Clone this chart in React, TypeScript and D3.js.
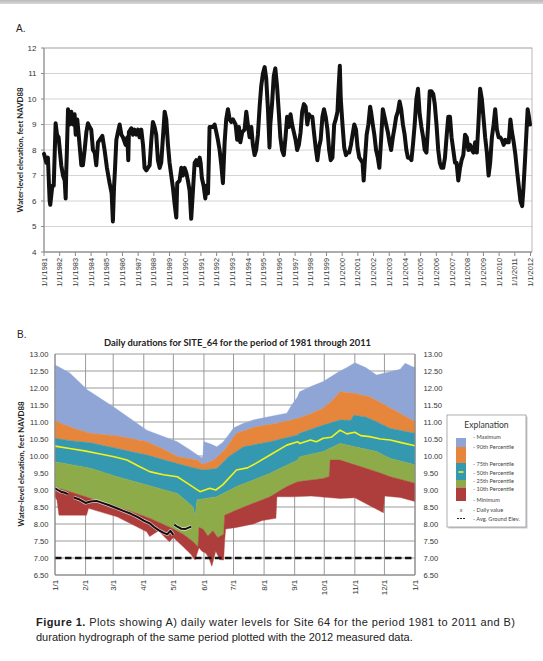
import React from "react";
import * as d3 from "d3";

// ---------- Panel A data: daily water levels (decimal year, feet NAVD88) ----------
const topYears = [
  1981.0, 1981.15, 1981.25, 1981.36, 1981.4, 1981.53, 1981.62, 1981.74, 1981.83, 1981.93,
  1982.1, 1982.21, 1982.32, 1982.38, 1982.42, 1982.46, 1982.53, 1982.63, 1982.74, 1982.85,
  1982.95, 1983.02, 1983.12, 1983.21, 1983.38, 1983.48, 1983.59, 1983.7, 1983.8, 1983.91,
  1984.01, 1984.12, 1984.23, 1984.33, 1984.44, 1984.55, 1984.72, 1984.86, 1985.01, 1985.18,
  1985.31, 1985.39, 1985.46, 1985.52, 1985.61, 1985.71, 1985.82, 1985.93, 1986.03, 1986.2,
  1986.31, 1986.37, 1986.41, 1986.56, 1986.67, 1986.77, 1986.88, 1986.99, 1987.09, 1987.2,
  1987.31, 1987.41, 1987.52, 1987.62, 1987.73, 1987.84, 1987.94, 1988.05, 1988.15, 1988.26,
  1988.37, 1988.47, 1988.58, 1988.69, 1988.79, 1988.9, 1989.0, 1989.11, 1989.22, 1989.32,
  1989.43, 1989.49, 1989.64, 1989.75, 1989.85, 1989.96, 1990.07, 1990.17, 1990.28, 1990.38,
  1990.49, 1990.6, 1990.7, 1990.81, 1990.92, 1990.98, 1991.06, 1991.17, 1991.28, 1991.34,
  1991.45, 1991.51, 1991.55, 1991.66, 1991.76, 1991.87, 1991.98, 1992.08, 1992.19, 1992.3,
  1992.4, 1992.51, 1992.61, 1992.72, 1992.83, 1992.93, 1993.04, 1993.21, 1993.31, 1993.42,
  1993.51, 1993.63, 1993.78, 1993.89, 1993.99, 1994.1, 1994.21, 1994.31, 1994.42, 1994.52,
  1994.63, 1994.74, 1994.84, 1994.95, 1995.06, 1995.16, 1995.27, 1995.37,
  1995.42, 1995.53, 1995.64, 1995.74, 1995.85, 1995.96, 1996.06, 1996.17, 1996.28, 1996.39,
  1996.49, 1996.6, 1996.71, 1996.81, 1996.92, 1997.03, 1997.13, 1997.24, 1997.35, 1997.45,
  1997.56, 1997.67, 1997.78, 1997.88, 1997.99, 1998.1, 1998.2, 1998.31, 1998.42, 1998.52,
  1998.63, 1998.74, 1998.84, 1998.95, 1999.06, 1999.17, 1999.27, 1999.38, 1999.49, 1999.59,
  1999.7, 1999.76, 1999.85, 1999.91, 2000.02, 2000.13, 2000.24, 2000.34, 2000.45, 2000.56,
  2000.66, 2000.77, 2000.88, 2000.98, 2001.09, 2001.2, 2001.3, 2001.37, 2001.45, 2001.56,
  2001.67, 2001.78, 2001.84, 2001.95, 2002.05, 2002.16, 2002.27, 2002.37, 2002.48, 2002.59,
  2002.7, 2002.8, 2002.91, 2003.02, 2003.12, 2003.23, 2003.34, 2003.44, 2003.55, 2003.66,
  2003.76, 2003.87, 2003.98, 2004.09, 2004.19, 2004.3, 2004.41, 2004.51, 2004.62, 2004.73,
  2004.83, 2004.94, 2005.05, 2005.16, 2005.26, 2005.37, 2005.48, 2005.58, 2005.69, 2005.8,
  2005.9, 2006.01, 2006.12, 2006.22, 2006.33, 2006.44, 2006.55, 2006.65, 2006.76, 2006.87,
  2006.97, 2007.08, 2007.19, 2007.29, 2007.4, 2007.51, 2007.61, 2007.72, 2007.83, 2007.94,
  2008.04, 2008.15, 2008.26, 2008.36, 2008.47, 2008.58, 2008.68, 2008.79, 2008.9, 2009.0,
  2009.11, 2009.22, 2009.33, 2009.43, 2009.54, 2009.65, 2009.75, 2009.86, 2009.97, 2010.07,
  2010.18, 2010.29, 2010.4, 2010.5, 2010.61, 2010.72, 2010.82, 2010.93, 2011.04, 2011.14,
  2011.25, 2011.36, 2011.47, 2011.55, 2011.65, 2011.75, 2011.82, 2011.9, 2011.97,
];
const topLevels = [
  7.85, 7.5, 7.7, 6.0, 5.85, 6.6, 6.6, 9.05, 8.6, 8.5,
  7.4, 7.0, 6.8, 6.1, 7.2, 8.0, 9.6, 9.0, 9.5, 9.0,
  9.4, 8.6, 9.2, 8.6, 7.4, 7.4, 8.0, 8.7, 9.05, 8.9,
  8.8, 8.0, 7.9, 7.4, 8.3, 8.4, 8.55, 8.0, 7.3, 6.7,
  6.3, 5.2, 6.5, 7.2, 8.4, 8.7, 9.0, 8.6, 8.5, 8.2,
  8.5, 7.6, 8.7, 8.85, 8.6, 8.8, 8.6, 8.8, 8.5, 8.8,
  8.2, 7.3, 7.2, 7.3, 7.4, 8.4, 9.1, 8.9, 8.6, 7.6,
  7.3, 7.5, 8.5, 9.5, 9.2, 8.2, 7.5, 7.0, 6.5, 5.9,
  5.35, 6.7, 6.8, 7.3, 7.0, 7.3, 7.1, 6.8, 6.4, 5.3,
  6.4, 7.5, 7.6, 7.4, 7.7, 7.5, 6.9, 6.6, 6.1, 6.6,
  6.3, 7.8, 8.9, 8.9, 8.9, 9.0, 8.7, 8.4, 8.0, 7.4,
  6.7, 8.3, 9.2, 9.6, 9.2, 9.1, 9.2, 9.0, 8.4, 8.9,
  8.3, 8.7, 8.8, 9.5, 9.0, 8.5, 8.9, 8.2, 7.8, 8.0,
  8.6, 9.7, 10.5, 11.0, 11.25, 10.8, 9.6, 8.1,
  9.0, 9.8, 10.9, 11.2, 10.5, 9.5, 8.5, 8.0, 7.8, 8.5,
  9.3, 8.9, 9.4, 9.0, 8.7, 8.4, 8.0, 8.2, 8.7, 9.5,
  9.8, 9.7, 9.0, 9.4, 9.3, 9.3, 8.7, 8.1, 7.6, 8.1,
  8.4, 9.3, 9.6, 9.3, 8.8, 8.0, 7.6, 7.7, 9.0, 9.2,
  9.5, 10.3, 11.3, 10.0, 9.0, 8.1, 7.8, 7.9, 7.9, 8.2,
  8.6, 9.0, 8.8, 8.1, 7.7, 7.6, 7.5, 6.8, 7.6, 8.6,
  9.0, 9.7, 9.5, 9.0, 8.6, 8.0, 7.7, 7.3, 8.4, 9.6,
  9.3, 9.0, 8.7, 8.3, 8.0, 8.5, 8.9, 9.3, 9.5, 9.9,
  9.6, 9.0, 8.6, 8.0, 7.7, 7.7, 7.6, 8.2, 9.0, 10.0,
  10.4, 9.4, 8.9, 8.5, 8.0, 7.9, 9.0, 10.3, 10.3, 10.2,
  9.8, 9.0, 8.0, 7.5, 7.3, 7.3, 7.7, 8.5, 9.3, 9.3,
  8.5, 8.0, 7.5, 7.5, 6.8, 7.3, 7.6, 7.8, 8.6, 8.5,
  8.0, 8.2, 8.0, 7.9, 8.3, 7.9, 9.0, 10.4, 10.0, 9.3,
  8.5, 7.9, 7.0, 7.5, 8.5, 9.0, 9.6, 8.8, 8.5, 8.5,
  8.4, 8.2, 8.4, 8.3, 8.3, 9.2, 8.7, 8.3, 7.8, 7.2,
  6.6, 6.0, 5.8, 6.5, 7.6, 8.8, 9.6, 9.3, 9.0,
];
const topYearTicks = d3.range(1981, 2013);
const topValueTicks = [4, 5, 6, 7, 8, 9, 10, 11, 12];

// ---------- Panel B data: duration hydrograph (day of year, feet NAVD88) ----------
const maxSeries: [number, number][] = [
  [0, 12.68], [5, 12.6], [15, 12.44], [33, 11.94], [61, 11.41], [93, 10.76], [124, 10.42],
  [137, 10.18], [149, 9.94], [150, 10.0], [151, 10.42], [158, 10.35], [164, 10.27], [170, 10.4],
  [176, 10.62], [181, 10.82], [190, 10.95], [201, 11.06], [218, 11.16], [235, 11.26], [240, 11.5],
  [246, 11.74], [248, 11.89], [260, 12.05], [272, 12.19], [289, 12.5], [296, 12.6], [304, 12.74],
  [315, 12.6], [326, 12.38], [340, 12.48], [350, 12.55], [355, 12.73], [362, 12.63], [365, 12.6],
];
const p90Series: [number, number][] = [
  [0, 11.04], [5, 10.97], [20, 10.8], [36, 10.67], [63, 10.59], [93, 10.42], [110, 10.2],
  [124, 9.98], [144, 9.88], [150, 9.75], [161, 9.88], [172, 10.18], [184, 10.67], [204, 10.86],
  [225, 10.96], [246, 11.1], [260, 11.25], [272, 11.41], [280, 11.6], [289, 11.89], [304, 11.84],
  [319, 11.74], [340, 11.41], [365, 11.01],
];
const p75Series: [number, number][] = [
  [0, 10.52], [15, 10.45], [36, 10.39], [63, 10.22], [93, 10.03], [124, 9.78], [137, 9.68],
  [150, 9.59], [164, 9.63], [176, 9.98], [191, 10.27], [218, 10.42], [246, 10.62], [248, 10.67],
  [272, 10.91], [289, 11.06], [300, 11.05], [303, 11.2], [315, 11.15], [326, 11.01], [340, 10.81],
  [365, 10.67],
];
const p50Series: [number, number][] = [
  [0, 10.29], [15, 10.22], [30, 10.15], [46, 10.06], [60, 9.98], [73, 9.88], [85, 9.7], [96, 9.54],
  [110, 9.45], [124, 9.39], [134, 9.2], [147, 8.95], [152, 9.0], [157, 9.05], [163, 9.0],
  [170, 9.15], [184, 9.59], [195, 9.65], [204, 9.79], [218, 10.03], [235, 10.32], [246, 10.42],
  [248, 10.37], [259, 10.47], [265, 10.42], [272, 10.52], [280, 10.55], [289, 10.76], [296, 10.65],
  [304, 10.7], [310, 10.6], [319, 10.57], [330, 10.5], [340, 10.47], [350, 10.4], [365, 10.3],
];
const p25Series: [number, number][] = [
  [0, 9.83], [36, 9.64], [63, 9.39], [93, 9.15], [124, 8.9], [140, 8.51], [142, 8.21], [144, 8.71],
  [164, 8.8], [184, 9.1], [218, 9.49], [246, 9.88], [248, 9.98], [272, 10.13], [289, 10.37],
  [304, 10.27], [326, 10.13], [340, 9.93], [365, 9.74],
];
const p10Series: [number, number][] = [
  [0, 9.08], [15, 8.95], [46, 8.66], [73, 8.41], [96, 8.17], [119, 7.87], [130, 7.7], [140, 7.48],
  [145, 7.33], [146, 7.9], [150, 7.85], [155, 7.65], [160, 7.8], [165, 7.6], [171, 7.7],
  [172, 8.26], [184, 8.41], [201, 8.61], [218, 8.8], [235, 9.1], [246, 9.24], [272, 9.34],
  [278, 9.4], [279, 9.88], [289, 9.88], [304, 9.74], [326, 9.54], [340, 9.39], [365, 9.2],
];
const minSeries: [number, number][] = [
  [0, 8.8], [2, 8.7], [4, 8.26], [32, 8.26], [34, 8.46], [63, 8.21], [76, 8.02], [93, 7.77],
  [96, 7.63], [105, 7.8], [110, 7.65], [116, 7.48], [120, 7.6], [130, 7.33], [138, 7.1],
  [142, 6.94], [146, 7.3], [149, 7.2], [153, 7.14], [156, 7.0], [159, 6.76], [163, 7.2],
  [167, 6.95], [171, 6.94], [172, 7.5], [173, 7.85], [184, 7.9], [201, 8.0], [210, 8.1],
  [224, 8.17], [225, 8.8], [240, 8.8], [260, 8.82], [289, 8.75], [304, 8.77], [333, 8.33],
  [334, 8.82], [350, 8.78], [365, 8.66],
];
const dailyValueSegments: [number, number][][] = [
  [[0, 9.05], [3, 9.0], [6, 8.95], [10, 8.92], [13, 8.88]],
  [[19, 8.78], [25, 8.72], [31, 8.62], [36, 8.66], [42, 8.68], [48, 8.62], [55, 8.55], [62, 8.47],
   [70, 8.38], [77, 8.3], [84, 8.2], [90, 8.1], [96, 8.02], [100, 7.92], [105, 7.82], [110, 7.74],
   [114, 7.7], [117, 7.8], [120, 7.68]],
  [[121, 7.98], [124, 7.92], [128, 7.86], [132, 7.85], [136, 7.9], [138, 7.92]],
];
const groundElevation = 7.0;
const monthStartDays = [0, 31, 59, 90, 120, 151, 181, 212, 243, 273, 304, 334, 365];
const monthLabels = ["1/1", "2/1", "3/1", "4/1", "5/1", "6/1", "7/1", "8/1", "9/1", "10/1", "11/1", "12/1", "1/1"];
const bottomValueTicks = d3.range(6.5, 13.01, 0.5);

const legendItems = [
  "- Maximum", "- 90th Percentile", "- 75th Percentile", "- 50th Percentile",
  "- 25th Percentile", "- 10th Percentile", "- Minimum", "- Daily value", "- Avg. Ground Elev.",
];

const C = {
  blue: "#8fa5d6",
  orange: "#e6853c",
  teal: "#3499b0",
  green: "#8dab48",
  red: "#ae3e3b",
  yellow: "#f2f21a",
};

const SANS = "'Liberation Sans', Arial, sans-serif";
const NARROW = "Lato, 'Liberation Sans', sans-serif";

export default function App() {
  // Panel A scales
  const xA = d3.scaleLinear().domain([1981, 2012]).range([44, 530.5]);
  const yA = d3.scaleLinear().domain([4, 12]).range([252, 48]);
  const lineA = d3.line<number>().x((_, i) => xA(topYears[i])).y((d) => yA(d));

  // Panel B scales
  const xB = d3.scaleLinear().domain([0, 365]).range([55, 415]);
  const yB = d3.scaleLinear().domain([6.5, 13]).range([575, 354]);
  const lineB = d3.line<[number, number]>().x((d) => xB(d[0])).y((d) => yB(d[1]));
  const band = (top: [number, number][], bottom: [number, number][]) =>
    (lineB([...top, ...bottom.slice().reverse()]) || "") + "Z";

  const bands = [
    { top: maxSeries, bottom: p90Series, fill: C.blue },
    { top: p90Series, bottom: p75Series, fill: C.orange },
    { top: p75Series, bottom: p25Series, fill: C.teal },
    { top: p25Series, bottom: p10Series, fill: C.green },
    { top: p10Series, bottom: minSeries, fill: C.red },
  ];

  const legendY = [437, 447, 464, 472.5, 481, 488.5, 500, 510, 519];

  return (
    <svg width={543} height={661} style={{ position: "absolute", left: 0, top: 0, background: "#fff" }}>
      <defs>
        <linearGradient id="topbar" x1="0" y1="0" x2="0" y2="1">
          <stop offset="0" stopColor="#b9b9b9" />
          <stop offset="1" stopColor="#d8d8d8" />
        </linearGradient>
      </defs>
      <rect x={0} y={0} width={543} height={661} fill="#fff" />
      <rect x={0} y={0} width={543} height={4} fill="url(#topbar)" />

      {/* ---------------- Panel A ---------------- */}
      <text x={16} y={31.5} fontFamily={SANS} fontSize={10} fill="#222">A.</text>
      {topValueTicks.map((v) => (
        <line key={"ga" + v} x1={44} x2={532} y1={yA(v)} y2={yA(v)} stroke="#d4d4d4" strokeWidth={1} />
      ))}
      <rect x={44} y={48} width={488} height={204} fill="none" stroke="#a8a8a8" strokeWidth={0.8} />
      <line x1={44} x2={44} y1={48} y2={252} stroke="#8a8a8a" strokeWidth={1} />
      <line x1={44} x2={532} y1={252} y2={252} stroke="#8a8a8a" strokeWidth={1} />
      {topValueTicks.map((v) => (
        <g key={"ta" + v}>
          <line x1={41} x2={44} y1={yA(v)} y2={yA(v)} stroke="#8a8a8a" />
          <text x={36.5} y={yA(v) + 2.8} textAnchor="end" fontFamily={SANS} fontSize={8} fill="#333">{v}</text>
        </g>
      ))}
      {topYearTicks.map((yr) => (
        <g key={"xa" + yr}>
          <line x1={xA(yr)} x2={xA(yr)} y1={252} y2={256} stroke="#8a8a8a" />
          <text
            transform={`translate(${xA(yr) + 2.6},258) rotate(-90)`}
            textAnchor="end"
            fontFamily={SANS}
            fontSize={7.4}
            fill="#333"
          >{`1/1/${yr}`}</text>
        </g>
      ))}
      <path d={lineA(topLevels) || ""} fill="none" stroke="#111" strokeWidth={4} strokeLinejoin="round" strokeLinecap="round" />
      <text
        transform="translate(22.5,150) rotate(-90)"
        textAnchor="middle"
        fontFamily={NARROW}
        fontWeight="bold"
        fontSize={8}
        textLength={125}
        lengthAdjust="spacingAndGlyphs"
        fill="#222"
      >Water-level elevation, feet NAVD88</text>

      {/* ---------------- Panel B ---------------- */}
      <text x={17} y={338} fontFamily={SANS} fontSize={10} fill="#222">B.</text>
      <text
        x={237.5}
        y={345.5}
        textAnchor="middle"
        fontFamily={NARROW}
        fontWeight="bold"
        fontSize={9}
        textLength={267}
        lengthAdjust="spacingAndGlyphs"
        fill="#222"
      >Daily durations for SITE_64 for the period of 1981 through 2011</text>

      {bottomValueTicks.map((v) => (
        <line key={"gb" + v} x1={55} x2={415} y1={yB(v)} y2={yB(v)} stroke="#8f8f8f" strokeWidth={0.9} />
      ))}
      {monthStartDays.map((d, i) => (
        <line key={"vb" + i} x1={xB(d)} x2={xB(d)} y1={354} y2={575} stroke="#8f8f8f" strokeWidth={0.9} />
      ))}

      {bands.map((b, i) => (
        <path key={"band" + i} d={band(b.top, b.bottom)} fill={b.fill} stroke={b.fill} strokeWidth={0.4} />
      ))}
      <path d={lineB(p50Series) || ""} fill="none" stroke={C.yellow} strokeWidth={1.6} strokeLinejoin="round" />
      <line
        x1={xB(0)}
        x2={xB(362)}
        y1={yB(groundElevation)}
        y2={yB(groundElevation)}
        stroke="#111"
        strokeWidth={2.6}
        strokeDasharray="6.5 3.5"
      />
      {dailyValueSegments.map((seg, i) => (
        <g key={"dv" + i}>
          <path d={lineB(seg) || ""} fill="none" stroke="#fff" strokeWidth={3.4} strokeOpacity={0.7} strokeLinejoin="round" />
          <path d={lineB(seg) || ""} fill="none" stroke="#111" strokeWidth={2} strokeLinejoin="round" />
        </g>
      ))}
      <line x1={55} x2={55} y1={354} y2={575} stroke="#8a8a8a" strokeWidth={1} />
      <line x1={415} x2={415} y1={354} y2={575} stroke="#8a8a8a" strokeWidth={1} />
      <line x1={55} x2={415} y1={575} y2={575} stroke="#8a8a8a" strokeWidth={1} />

      {bottomValueTicks.map((v) => (
        <g key={"tb" + v}>
          <text x={48.5} y={yB(v) + 2.8} textAnchor="end" fontFamily={SANS} fontSize={7.6} fill="#333">{v.toFixed(2)}</text>
          <text x={423.5} y={yB(v) + 2.8} textAnchor="start" fontFamily={SANS} fontSize={7.6} fill="#333">{v.toFixed(2)}</text>
        </g>
      ))}
      {monthStartDays.map((d, i) => (
        <text
          key={"xb" + i}
          transform={`translate(${xB(d) + 2.7},580) rotate(-90)`}
          textAnchor="end"
          fontFamily={SANS}
          fontSize={7.8}
          fill="#333"
        >{monthLabels[i]}</text>
      ))}
      <text
        transform="translate(23.5,464) rotate(-90)"
        textAnchor="middle"
        fontFamily={NARROW}
        fontWeight="bold"
        fontSize={8}
        textLength={125}
        lengthAdjust="spacingAndGlyphs"
        fill="#222"
      >Water-level elevation, feet NAVD88</text>

      {/* Legend */}
      <rect x={448.5} y={416.5} width={79} height={112} fill="#c9c9c9" />
      <rect x={447} y={415} width={79} height={112} fill="#fff" stroke="#9a9a9a" strokeWidth={0.8} />
      <text x={486.5} y={427.5} textAnchor="middle" fontFamily={NARROW} fontSize={8.6} fill="#333">Explanation</text>
      <rect x={456} y={438} width={10} height={9} fill={C.blue} />
      <rect x={456} y={447} width={10} height={16} fill={C.orange} />
      <rect x={456} y={463} width={10} height={17} fill={C.teal} />
      <line x1={458.5} x2={463.5} y1={472} y2={472} stroke={C.yellow} strokeWidth={1.6} />
      <rect x={456} y={480} width={10} height={7.5} fill={C.green} />
      <rect x={456} y={487.5} width={10} height={13.5} fill={C.red} />
      <text x={461} y={512} textAnchor="middle" fontFamily={SANS} fontSize={5.5} fill="#333">x</text>
      <line x1={457} x2={465} y1={518.5} y2={518.5} stroke="#222" strokeWidth={1} strokeDasharray="2 1" />
      {legendItems.map((t, i) => (
        <text key={"lg" + i} x={473} y={legendY[i] + 2} fontFamily={NARROW} fontSize={5.6} fill="#444">{t}</text>
      ))}

      {/* Caption */}
      <text x={36} y={626} fontFamily={SANS} fontSize={11} fill="#222" textLength={479} lengthAdjust="spacing">
        <tspan fontWeight="bold">Figure 1.</tspan>
        <tspan> Plots showing A) daily water levels for Site 64 for the period 1981 to 2011 and B)</tspan>
      </text>
      <text x={36} y={640.5} fontFamily={SANS} fontSize={11} fill="#222">
        duration hydrograph of the same period plotted with the 2012 measured data.
      </text>
    </svg>
  );
}
